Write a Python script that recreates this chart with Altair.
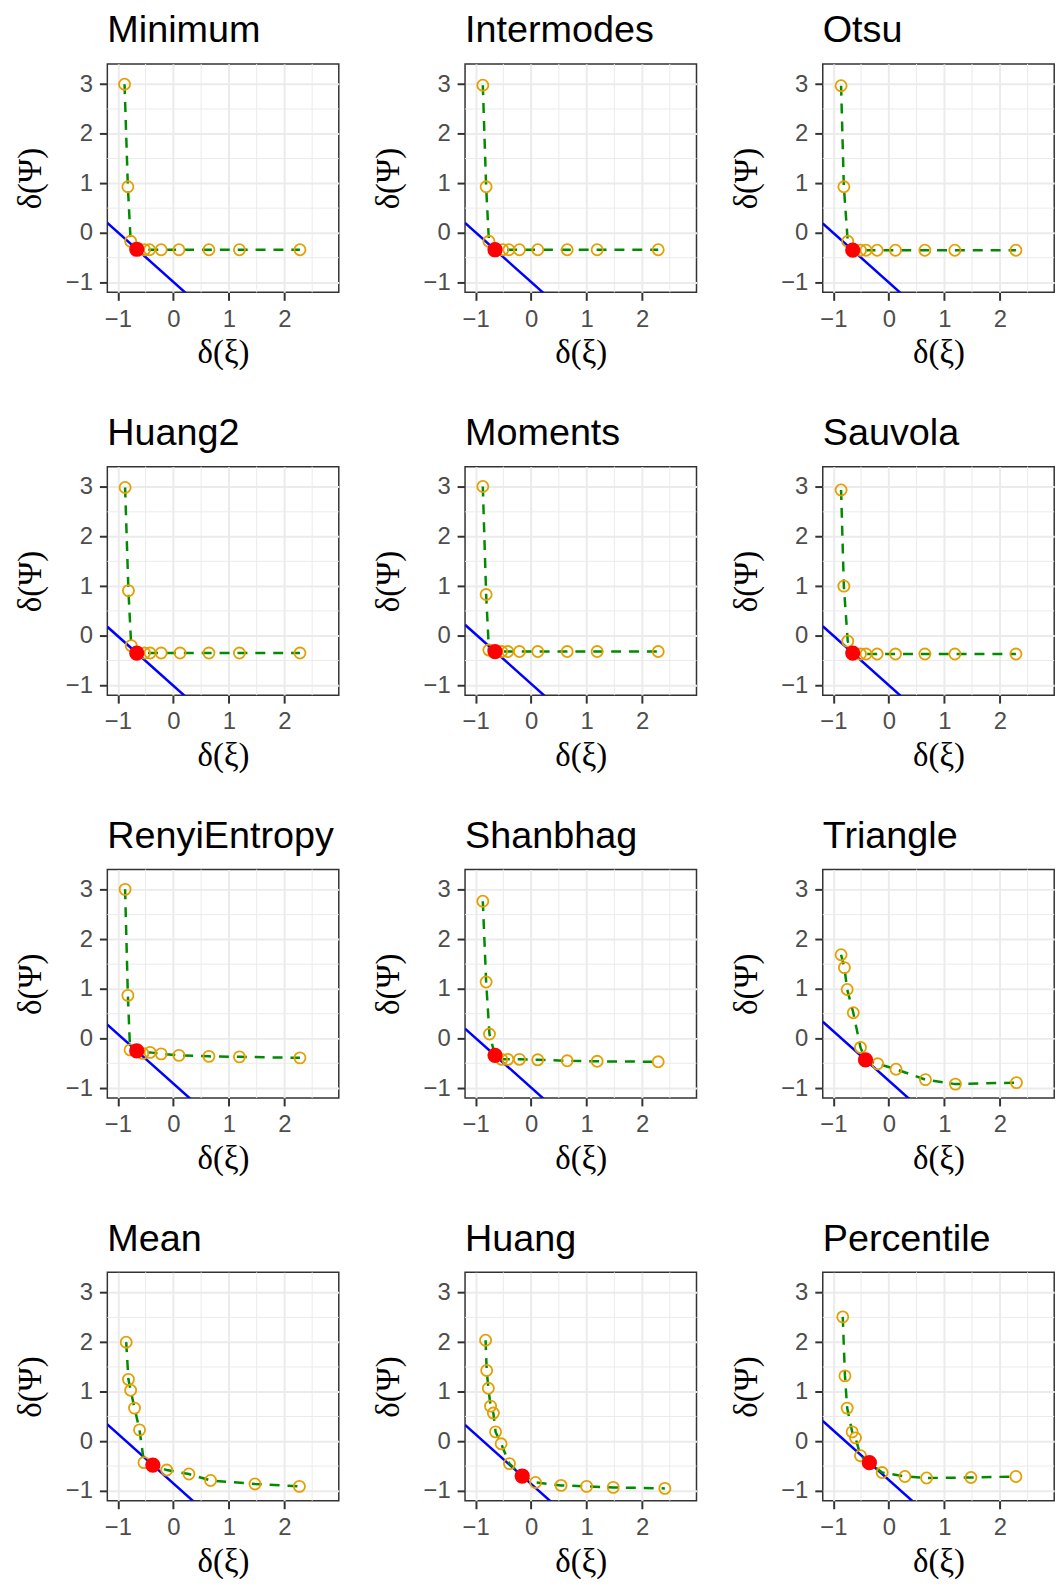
import altair as alt
import pandas as pd

methods = ["Minimum", "Intermodes", "Otsu", "Huang2", "Moments", "Sauvola",
           "RenyiEntropy", "Shanbhag", "Triangle", "Mean", "Huang", "Percentile"]

minimum_x = [-0.88, -0.82, -0.77, -0.66, -0.52, -0.43, -0.22, 0.10, 0.64, 1.19, 2.28]
minimum_y = [3.00, 0.93, -0.17, -0.33, -0.34, -0.34, -0.34, -0.34, -0.34, -0.34, -0.34]
intermodes_x = [-0.87, -0.81, -0.76, -0.65, -0.51, -0.40, -0.21, 0.12, 0.65, 1.19, 2.29]
intermodes_y = [2.98, 0.93, -0.17, -0.34, -0.34, -0.34, -0.34, -0.34, -0.34, -0.34, -0.34]
otsu_x = [-0.86, -0.81, -0.74, -0.65, -0.51, -0.41, -0.21, 0.12, 0.65, 1.19, 2.29]
otsu_y = [2.97, 0.93, -0.17, -0.35, -0.35, -0.35, -0.35, -0.35, -0.35, -0.35, -0.35]
huang2_x = [-0.87, -0.81, -0.76, -0.66, -0.52, -0.42, -0.22, 0.12, 0.64, 1.19, 2.28]
huang2_y = [2.99, 0.91, -0.20, -0.35, -0.35, -0.35, -0.35, -0.35, -0.35, -0.35, -0.35]
moments_x = [-0.87, -0.81, -0.76, -0.65, -0.53, -0.42, -0.21, 0.12, 0.65, 1.19, 2.29]
moments_y = [3.01, 0.83, -0.29, -0.32, -0.32, -0.32, -0.32, -0.32, -0.32, -0.32, -0.32]
sauvola_x = [-0.86, -0.81, -0.74, -0.65, -0.51, -0.41, -0.21, 0.12, 0.65, 1.19, 2.29]
sauvola_y = [2.94, 1.00, -0.11, -0.35, -0.37, -0.37, -0.37, -0.37, -0.37, -0.37, -0.37]
renyi_x = [-0.87, -0.82, -0.78, -0.66, -0.55, -0.42, -0.22, 0.10, 0.64, 1.19, 2.28]
renyi_y = [3.01, 0.87, -0.23, -0.25, -0.30, -0.28, -0.31, -0.34, -0.36, -0.37, -0.39]
shanbhag_x = [-0.87, -0.81, -0.75, -0.65, -0.53, -0.42, -0.21, 0.12, 0.65, 1.19, 2.29]
shanbhag_y = [2.77, 1.14, 0.09, -0.34, -0.42, -0.42, -0.42, -0.43, -0.45, -0.46, -0.47]
triangle_x = [-0.86, -0.80, -0.75, -0.64, -0.51, -0.42, -0.20, 0.13, 0.66, 1.20, 2.30]
triangle_y = [1.69, 1.43, 0.99, 0.52, -0.18, -0.43, -0.51, -0.62, -0.83, -0.92, -0.89]
mean_x = [-0.85, -0.81, -0.77, -0.70, -0.61, -0.53, -0.37, -0.12, 0.28, 0.67, 1.47, 2.27]
mean_y = [2.00, 1.25, 1.03, 0.67, 0.23, -0.43, -0.48, -0.58, -0.66, -0.79, -0.86, -0.91]
huang_x = [-0.82, -0.80, -0.77, -0.73, -0.68, -0.64, -0.54, -0.39, -0.16, 0.08, 0.54, 1.00, 1.48, 2.41]
huang_y = [2.04, 1.43, 1.07, 0.71, 0.57, 0.19, -0.05, -0.45, -0.70, -0.83, -0.89, -0.91, -0.93, -0.95]
percentile_x = [-0.83, -0.79, -0.75, -0.66, -0.60, -0.51, -0.35, -0.12, 0.29, 0.68, 1.48, 2.29]
percentile_y = [2.51, 1.32, 0.67, 0.19, 0.07, -0.29, -0.43, -0.63, -0.71, -0.74, -0.73, -0.71]

series_x = [minimum_x, intermodes_x, otsu_x, huang2_x, moments_x, sauvola_x,
            renyi_x, shanbhag_x, triangle_x, mean_x, huang_x, percentile_x]
series_y = [minimum_y, intermodes_y, otsu_y, huang2_y, moments_y, sauvola_y,
            renyi_y, shanbhag_y, triangle_y, mean_y, huang_y, percentile_y]
# index of the selected (red) point in each series
red_index = [3, 3, 3, 3, 3, 3, 3, 3, 5, 6, 8, 6]

x_domain = [-1.19, 2.98]
y_domain = [-1.2, 3.41]
x_ticks = [-1, 0, 1, 2]
y_ticks = [-1, 0, 1, 2, 3]
x_minor = [-0.5, 0.5, 1.5, 2.5]
y_minor = [-0.5, 0.5, 1.5, 2.5]

W, H = 233, 230

xsc = alt.Scale(domain=x_domain, nice=False, zero=False)
ysc = alt.Scale(domain=y_domain, nice=False, zero=False)

common_axis = dict(grid=True, gridColor="#EBEBEB", gridWidth=2, domain=False,
                   ticks=True, tickColor="#333333", tickSize=8, tickWidth=2,
                   labelFont="Liberation Sans", labelFontSize=24, labelColor="#4D4D4D",
                   labelFlush=False, labelOverlap=False,
                   titleFont="Liberation Serif", titleFontSize=33,
                   titleFontWeight="normal", titleColor="black")

xax = alt.Axis(values=x_ticks, title="δ(ξ)", labelPadding=7,
               titleBaseline="middle", titleY=61, **common_axis)
yax = alt.Axis(values=y_ticks, title="δ(Ψ)", labelPadding=7,
               titleBaseline="middle", titleX=-77, titleAngle=-90, **common_axis)


def panel(name, xs, ys, ri):
    df = pd.DataFrame({"x": xs, "y": ys})
    red = pd.DataFrame({"x": [xs[ri]], "y": [ys[ri]]})
    c = xs[ri] + ys[ri]
    blue = pd.DataFrame({"x": x_domain, "y": [c - v for v in x_domain]})

    vminor = alt.Chart(pd.DataFrame({"x": x_minor})).mark_rule(
        color="#EBEBEB", strokeWidth=1).encode(x=alt.X("x:Q", scale=xsc, axis=xax))
    hminor = alt.Chart(pd.DataFrame({"y": y_minor})).mark_rule(
        color="#EBEBEB", strokeWidth=1).encode(y=alt.Y("y:Q", scale=ysc, axis=yax))
    bline = alt.Chart(blue).mark_line(color="#0000FF", strokeWidth=2.5, clip=True).encode(
        x=alt.X("x:Q", scale=xsc, axis=xax), y=alt.Y("y:Q", scale=ysc, axis=yax))
    gline = alt.Chart(df).mark_line(color="#008B00", strokeWidth=2.5,
                                    strokeDash=[10, 8]).encode(
        x=alt.X("x:Q", scale=xsc, axis=xax), y=alt.Y("y:Q", scale=ysc, axis=yax))
    pts = alt.Chart(df).mark_point(shape="circle", filled=False, color="#E69F00",
                                   size=125, strokeWidth=1.8, opacity=1).encode(
        x=alt.X("x:Q", scale=xsc, axis=xax), y=alt.Y("y:Q", scale=ysc, axis=yax))
    rpt = alt.Chart(red).mark_point(shape="circle", filled=True, color="#FF0000",
                                    size=235, opacity=1).encode(
        x=alt.X("x:Q", scale=xsc, axis=xax), y=alt.Y("y:Q", scale=ysc, axis=yax))
    return alt.layer(vminor, hminor, bline, gline, pts, rpt).properties(
        width=W, height=H,
        title=alt.TitleParams(text=name, anchor="start", frame="group", fontSize=38,
                              font="Liberation Sans", fontWeight="normal",
                              color="black", baseline="alphabetic", offset=-16.7))


panels = [panel(n, xs, ys, ri) for n, xs, ys, ri in zip(methods, series_x, series_y, red_index)]

chart = alt.concat(*panels, columns=3, spacing={"row": 175.5, "column": 127.1},
                   bounds="flush").properties(
    padding={"left": 6, "top": -2, "right": 0, "bottom": -1.5}
).configure(background="white").configure_view(stroke="#333333", strokeWidth=1.5)

chart.save("out.html", embed_options={"renderer": "svg", "actions": False})
